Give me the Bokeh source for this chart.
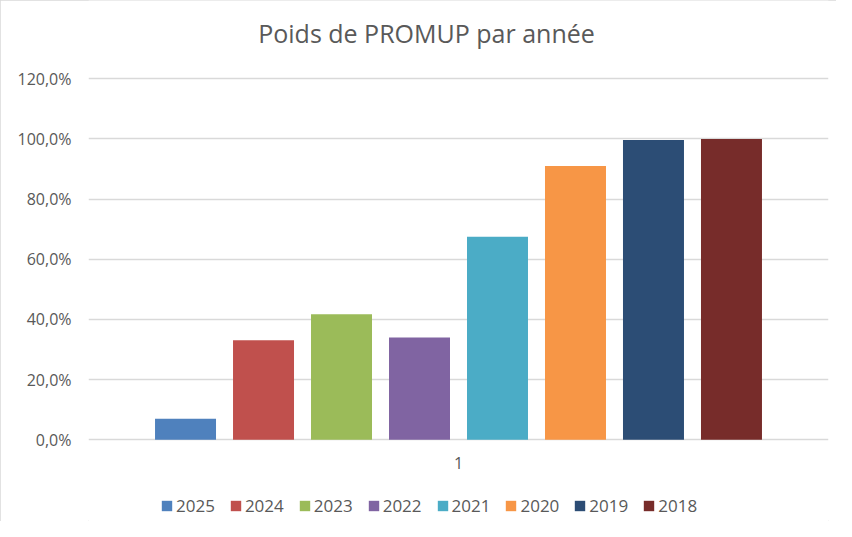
from bokeh.plotting import figure
from bokeh.models import (ColumnDataSource, Range1d, FixedTicker, CustomJSTickFormatter,
                          Legend, LegendItem, Label)
from bokeh.embed import file_html
from bokeh.resources import INLINE

# ---- data ----
years = ["2025", "2024", "2023", "2022", "2021", "2020", "2019", "2018"]
weights = [0.070, 0.331, 0.417, 0.340, 0.675, 0.910, 0.997, 1.000]
colors = ["#4F81BD", "#C0504D", "#9BBB59", "#8064A2", "#4BACC6", "#F79646", "#2C4D75", "#772C2A"]
category_label = "1"
y_ticks = [0.0, 0.2, 0.4, 0.6, 0.8, 1.0, 1.2]
title_text = "Poids de PROMUP par année"

FONT = "Open Sans"
TXT = "#595959"
GRID = "#D9D9D9"

xpos = list(range(len(years)))
center = (len(years) - 1) / 2.0

p = figure(width=836, height=521, output_backend="svg", toolbar_location=None,
           x_range=Range1d(center - 4.744, center + 4.744),
           y_range=Range1d(-0.2716, 1.4604),
           frame_width=740, frame_height=521,
           min_border_left=88, min_border_right=8, min_border_top=0, min_border_bottom=0,
           tools="")

p.outline_line_color = None
p.background_fill_color = "white"
p.border_fill_color = "white"
p.styles = {"outline": "1px solid #D9D9D9", "outline-offset": "-1px"}

title = Label(x=center, y=1.354, text=title_text, text_align="center", text_baseline="middle",
              x_offset=-32, text_font=FONT, text_font_size="25px", text_color=TXT)
p.add_layout(title)

items = []
for i, (yr, w, c) in enumerate(zip(years, weights, colors)):
    src = ColumnDataSource(dict(x=[xpos[i]], top=[w]))
    r = p.vbar(x="x", top="top", bottom=0, width=0.782, source=src,
               fill_color=c, line_color=None)
    items.append(LegendItem(label=yr, renderers=[r]))

# y axis
p.yaxis.ticker = FixedTicker(ticks=y_ticks)
p.yaxis.formatter = CustomJSTickFormatter(code="return (tick*100).toFixed(1).replace('.', ',') + '%';")
p.yaxis.axis_line_color = None
p.yaxis.major_tick_line_color = None
p.yaxis.minor_tick_line_color = None
p.yaxis.major_tick_out = 0
p.yaxis.major_label_text_font = FONT
p.yaxis.major_label_text_font_size = "16px"
p.yaxis.major_label_text_color = TXT
p.yaxis.major_label_standoff = 17

# x axis, pinned at y = 0
p.xaxis.fixed_location = 0
p.xaxis.ticker = FixedTicker(ticks=[center])
p.xaxis.major_label_overrides = {center: category_label}
p.xaxis.axis_line_color = None
p.xaxis.major_tick_line_color = None
p.xaxis.minor_tick_line_color = None
p.xaxis.major_tick_out = 0
p.xaxis.major_label_text_font = FONT
p.xaxis.major_label_text_font_size = "16px"
p.xaxis.major_label_text_color = TXT
p.xaxis.major_label_standoff = 17

# grid
p.xgrid.grid_line_color = None
p.ygrid.ticker = FixedTicker(ticks=y_ticks)
p.ygrid.grid_line_color = GRID
p.ygrid.grid_line_width = 1.3

legend = Legend(items=items, orientation="horizontal", location=(72, 4),
                label_text_font=FONT, label_text_font_size="17px", label_text_color=TXT,
                glyph_width=13, glyph_height=13, label_standoff=3, spacing=14,
                border_line_color=None, background_fill_alpha=0,
                margin=0, padding=0, label_height=22)
p.add_layout(legend, "center")

open("out.html", "w").write(file_html(p, INLINE))
